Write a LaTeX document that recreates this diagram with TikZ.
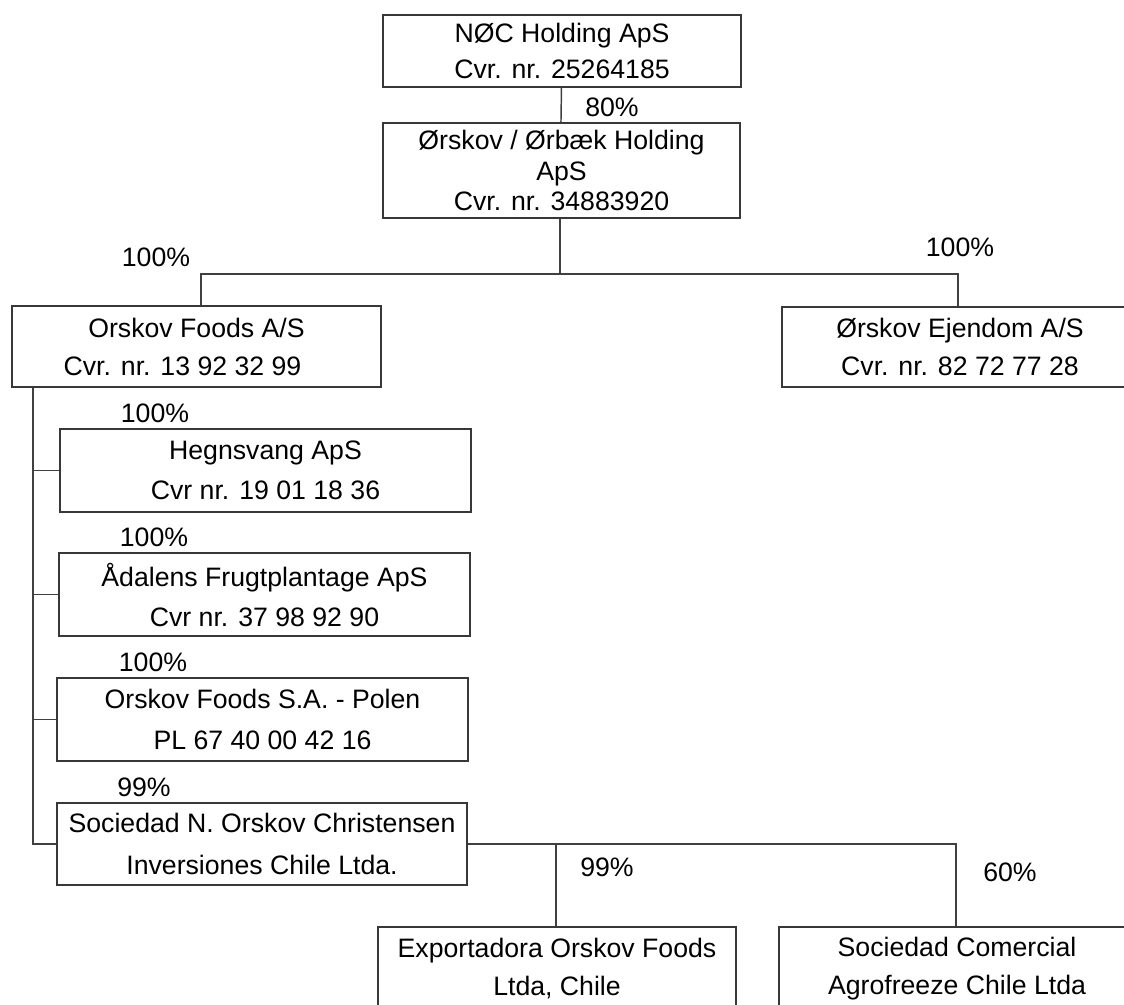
\documentclass[tikz,border=0pt]{standalone}
\usepackage{fontspec}
\setmainfont{Liberation Sans}
\begin{document}
\begin{tikzpicture}[x=0.75pt,y=-0.75pt,
  box/.style={draw=black!78,line width=1.4pt,rectangle,inner sep=0pt,align=center,text=black},
  pct/.style={inner sep=0pt,text=black,font=\fontsize{20}{24}\selectfont},
  conn/.style={draw=black!75,line width=1.1pt}]
\useasboundingbox (0,0) rectangle (1124,1004);
\fill[white] (0,0) rectangle (1124,1004);
\clip (0,0) rectangle (1124,1004);

\node[box,minimum width=268.5pt,minimum height=54pt,font=\fontsize{20}{27}\selectfont] (noc) at (562,51) {NØC Holding ApS\\Cvr. nr. 25264185};
\node[box,minimum width=267.75pt,minimum height=71.25pt,font=\fontsize{20}{23}\selectfont] (hold) at (561.5,170.5) {Ørskov / Ørbæk Holding\\ApS\\Cvr. nr. 34883920};
\node[box,minimum width=276.75pt,minimum height=60.75pt,font=\fontsize{20}{28.5}\selectfont] (foods) at (196.5,346.5) {Orskov Foods A/S\\Cvr. nr. 13 92 32 99\hspace*{21pt}};
\node[box,minimum width=267pt,minimum height=60pt,font=\fontsize{20}{29}\selectfont] (ejendom) at (960,347) {Ørskov Ejendom A/S\\Cvr. nr. 82 72 77 28};
\node[box,minimum width=308.25pt,minimum height=62.25pt,font=\fontsize{20}{30}\selectfont] (hegn) at (265.5,470.5) {Hegnsvang ApS\\Cvr nr. 19 01 18 36};
\node[box,minimum width=308.25pt,minimum height=62.25pt,font=\fontsize{20}{30}\selectfont] (adalen) at (264.5,594.5) {Ådalens Frugtplantage ApS\\Cvr nr. 37 98 92 90};
\node[box,minimum width=308.25pt,minimum height=62.25pt,font=\fontsize{20}{31}\selectfont] (polen) at (262.5,719.5) {Orskov Foods S.A. - Polen\\PL 67 40 00 42 16};
\node[box,minimum width=307.5pt,minimum height=61.5pt,font=\fontsize{20}{31.5}\selectfont] (soc) at (262,844) {Sociedad N. Orskov Christensen\\Inversiones Chile Ltda.};
\node[box,minimum width=268.5pt,minimum height=62.25pt,font=\fontsize{20}{29}\selectfont] (exp) at (557,968.5) {Exportadora Orskov Foods\\Ltda, Chile};
\node[box,minimum width=267pt,minimum height=62.25pt,font=\fontsize{20}{29}\selectfont] (agro) at (957,968.5) {Sociedad Comercial\\Agrofreeze Chile Ltda};

\node[pct] (p80) at (612,107) {80\%};
\node[pct] (p100a) at (156,257) {100\%};
\node[pct] (p100b) at (960,247) {100\%};
\node[pct] (p100c) at (155,413) {100\%};
\node[pct] (p100d) at (154,537) {100\%};
\node[pct] (p100e) at (153,662) {100\%};
\node[pct] (p99a) at (144,787) {99\%};
\node[pct] (p99b) at (607,867) {99\%};
\node[pct] (p60) at (1010,872) {60\%};

\draw[conn] ([xshift=-0.4pt]noc.south) -- ([xshift=-0.4pt]hold.north);
\path ([xshift=-1.1pt]hold.south) ++(0,55) coordinate (hj);
\draw[conn] ([xshift=-1.1pt]hold.south) -- (hj);
\draw[conn] ([xshift=3.4pt]foods.north) |- (hj) -| ([xshift=-1.5pt]ejendom.north);

\coordinate (tk) at (33,843);
\draw[conn] (foods.south -| tk) |- (soc.west);
\draw[conn] (tk |- hegn.west) -- (hegn.west);
\draw[conn] (tk |- adalen.west) -- (adalen.west);
\draw[conn] (tk |- polen.west) -- (polen.west);

\draw[conn] (soc.east) -| ([xshift=-0.75pt]agro.north);
\draw[conn] ([xshift=-0.75pt]exp.north) -- ([xshift=-0.75pt]exp.north |- soc.east);
\end{tikzpicture}
\end{document}
